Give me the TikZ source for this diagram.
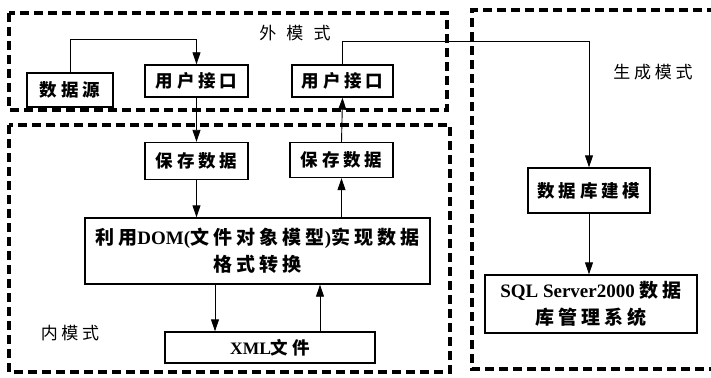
\documentclass[tikz,border=0pt]{standalone}
\usepackage{fontspec}
\setmainfont{Liberation Serif}
\newfontfamily\cjk[LetterSpace=22]{Noto Sans CJK SC}
\newfontfamily\cjkwide[LetterSpace=60]{Noto Sans CJK SC}
\usetikzlibrary{arrows.meta,calc}
\tikzset{
  box/.style={draw, line width=1.4pt, fill=white, inner sep=0pt, align=center, font=\cjk\bfseries\fontsize{17.5}{25}\selectfont},
  bigbox/.style={box, font=\cjk\bfseries\fontsize{19}{27}\selectfont},
  arr/.style={line width=0.9pt, -{Triangle[length=12pt,width=8pt]}},
  zone/.style={line width=3.2pt, dash pattern=on 9pt off 5pt},
  lbl/.style={inner sep=0pt, font=\cjk\fontsize{17}{20}\selectfont}
}
\begin{document}
\begin{tikzpicture}[x=1pt,y=-1pt]
\path[use as bounding box] (0,0) rectangle (711,377);
\fill[white] (0,0) rectangle (711,377);
% zones
\draw[zone] (9,13) rectangle (447,110);
\draw[zone] (9,125) rectangle (450,372);
\draw[zone] (716,10) -- (472,10) -- (472,369) -- (716,369);
% labels
\node[lbl, font=\cjkwide\fontsize{17}{20}\selectfont] (wai) at (295,33) {外模式};
\node[lbl] (shengcheng) at (653,72) {生成模式};
\node[lbl] (nei) at (70,333) {内模式};
% nodes
\node[box, minimum width=86pt, minimum height=34pt] (ds) at (70,90) {数据源};
\node[box, minimum width=103pt, minimum height=32pt] (ui1) at (196.5,81) {用户接口};
\node[box, minimum width=101pt, minimum height=32pt] (ui2) at (342.5,81) {用户接口};
\node[box, minimum width=103pt, minimum height=37pt] (sv1) at (196.5,161) {保存数据};
\node[box, minimum width=103pt, minimum height=35pt] (sv2) at (341.5,160) {保存数据};
\node[bigbox, minimum width=345pt, minimum height=66pt] (dom) at (257.5,251)
  {利用{\rmfamily\bfseries DOM(}文件对象模型{\rmfamily\bfseries )}实现数据\\格式转换};
\node[box, minimum width=210pt, minimum height=31pt] (xml) at (270,347.5) {{\rmfamily\bfseries XML}文件};
\node[box, minimum width=122pt, minimum height=45pt] (dbm) at (589,190.5) {数据库建模};
\node[bigbox, minimum width=212pt, minimum height=58pt] (sql) at (591,304)
  {{\rmfamily\bfseries SQL Server2000 }数据\\库管理系统};
% connectors
\coordinate (c1) at (589,41);
\draw[arr] (ds.north) |- ($(ui1.north)+(0,-25)$) -- (ui1.north);
\draw[arr] (ui2.north) |- (c1) -- (dbm.north);
\draw[arr] (dbm.south) -- (dbm.south |- sql.north);
\draw[arr] (ui1.south) -- (sv1.north);
\draw[arr] (sv1.south) -- (sv1.south |- dom.north);
\draw[arr] (dom.north -| sv2.south) -- (sv2.south);
\draw[arr] (sv2.north) -- (ui2.south);
\draw[arr] (dom.south -| 215,0) -- (xml.north -| 215,0);
\draw[arr] (xml.north -| 320,0) -- (dom.south -| 320,0);
\end{tikzpicture}
\end{document}
